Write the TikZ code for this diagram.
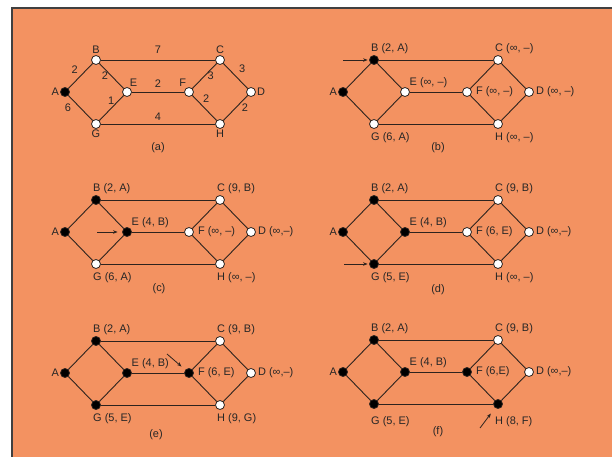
\documentclass[tikz,border=0pt]{standalone}
\usepackage{fontspec}
\setmainfont{Liberation Sans}
\usetikzlibrary{arrows.meta, positioning}
\definecolor{fondo}{RGB}{243,146,97}
\definecolor{trazo}{RGB}{45,35,30}
\newcommand{\graphlinks}[1]{%
  \foreach \u/\v in {A/B,A/G,B/E,G/E,B/C,E/F,G/H,F/C,F/H,C/D,H/D}
    \draw[link] (#1\u) -- (#1\v);}

\begin{document}
\begin{tikzpicture}[
  x=1bp, y=-1bp,
  vtx/.style={circle, draw=trazo, line width=0.8bp, minimum size=9bp,
              inner sep=0pt},
  settled/.style={vtx, fill=black},
  unsettled/.style={vtx, fill=white},
  link/.style={trazo, line width=0.9bp},
  lbl/.style={font=\fontsize{11}{13}\selectfont, text=black!85,
              inner sep=1bp},
  toplbl/.style={lbl, anchor=south west, xshift=-4bp},
  botlbl/.style={lbl, anchor=north west, xshift=-4bp, yshift=-2bp},
  weight/.style={lbl},
  pointer/.style={trazo, line width=0.8bp, -{Stealth[length=4.5bp, width=3.5bp]}}
]
\useasboundingbox (0,0) rectangle (612,457);

% Fondo
\fill[fondo] (12,8) rectangle (612,457);
\draw[black!75, line width=1.2bp] (12,457) -- (12,8) -- (612,8);

% (a) grafo con pesos
\begin{scope}[shift={(65,92)}]
\node[settled,   label={[lbl]left:A}]   (aA) at (0,0) {};
\node[unsettled, label={[lbl]above:B}]  (aB) at (31,-32) {};
\node[unsettled, label={[lbl]above:C}]  (aC) at (155,-32) {};
\node[unsettled, label={[lbl]right:D}]  (aD) at (186,0) {};
\node[unsettled, label={[lbl]70:E}]     (aE) at (62,0) {};
\node[unsettled, label={[lbl]110:F}]    (aF) at (124,0) {};
\node[unsettled, label={[lbl]below:G}]  (aG) at (31,32) {};
\node[unsettled, label={[lbl]below:H}]  (aH) at (155,32) {};
\draw[link] (aA) -- node[weight, above left=2bp] (wAB) {2} (aB);
\draw[link] (aB) -- node[weight, left=2bp] (wBE) {2} (aE);
\draw[link] (aA) -- node[weight, left=8bp] (wAG) {6} (aG);
\draw[link] (aG) -- node[weight, pos=0.8, left=3bp] (wGE) {1} (aE);
\draw[link] (aB) -- node[weight, above=5bp] (wBC) {7} (aC);
\draw[link] (aE) -- node[weight, above=3bp] (wEF) {2} (aF);
\draw[link] (aG) -- node[weight, above=2bp] (wGH) {4} (aH);
\draw[link] (aF) -- node[weight, pos=0.53, right=1bp] (wFC) {3} (aC);
\draw[link] (aC) -- node[weight, above right=3bp] (wCD) {3} (aD);
\draw[link] (aF) -- node[weight, pos=0.35, above right=1bp] (wFH) {2} (aH);
\draw[link] (aH) -- node[weight, right=5bp] (wHD) {2} (aD);
\node[lbl] (capa) at (93,56) {(a)};
\end{scope}

% (b)
\begin{scope}[shift={(343,92)}]
\node[settled,   label={[lbl]left:A}] (bA) at (0,0) {};
\node[settled,   label={[toplbl]above:B (2, A)}] (bB) at (31,-32) {};
\node[unsettled, label={[toplbl]above:C (∞, –)}] (bC) at (155,-32) {};
\node[unsettled, label={[lbl, label distance=1bp]right:D (∞, –)}] (bD) at (186,0) {};
\node[unsettled, label={[lbl, anchor=south west]45:E (∞, –)}] (bE) at (62,0) {};
\node[unsettled, label={[lbl, label distance=3bp]right:F (∞, –)}] (bF) at (124,0) {};
\node[unsettled, label={[botlbl]below:G (6, A)}] (bG) at (31,32) {};
\node[unsettled, label={[botlbl]below:H (∞, –)}] (bH) at (155,32) {};
\graphlinks{b}
\coordinate (pb) at (0,-32);
\draw[pointer, shorten >=1.5bp] (pb) -- (bB);
\node[lbl] (capb) at (95,56) {(b)};
\end{scope}

% (c)
\begin{scope}[shift={(65,232)}]
\node[settled,   label={[lbl]left:A}] (cA) at (0,0) {};
\node[settled,   label={[toplbl]above:B (2, A)}] (cB) at (31,-32) {};
\node[unsettled, label={[toplbl]above:C (9, B)}] (cC) at (155,-32) {};
\node[unsettled, label={[lbl, label distance=1bp]right:D (∞,–)}] (cD) at (186,0) {};
\node[settled,   label={[lbl, anchor=south west]45:E (4, B)}] (cE) at (62,0) {};
\node[unsettled, label={[lbl, label distance=3bp]right:F (∞, –)}] (cF) at (124,0) {};
\node[unsettled, label={[botlbl]below:G (6, A)}] (cG) at (31,32) {};
\node[unsettled, label={[botlbl]below:H (∞, –)}] (cH) at (155,32) {};
\graphlinks{c}
\coordinate (pc) at (32,0);
\draw[pointer, shorten >=4.5bp] (pc) -- (cE);
\node[lbl] (capc) at (94,57) {(c)};
\end{scope}

% (d)
\begin{scope}[shift={(343,232)}]
\node[settled,   label={[lbl]left:A}] (dA) at (0,0) {};
\node[settled,   label={[toplbl]above:B (2, A)}] (dB) at (31,-32) {};
\node[unsettled, label={[toplbl]above:C (9, B)}] (dC) at (155,-32) {};
\node[unsettled, label={[lbl, label distance=1bp]right:D (∞,–)}] (dD) at (186,0) {};
\node[settled,   label={[lbl, anchor=south west]45:E (4, B)}] (dE) at (62,0) {};
\node[unsettled, label={[lbl, label distance=3bp]right:F (6, E)}] (dF) at (124,0) {};
\node[settled,   label={[botlbl]below:G (5, E)}] (dG) at (31,32) {};
\node[unsettled, label={[botlbl]below:H (∞, –)}] (dH) at (155,32) {};
\graphlinks{d}
\coordinate (pd) at (1,32);
\draw[pointer, shorten >=1.5bp] (pd) -- (dG);
\node[lbl] (capd) at (95,58) {(d)};
\end{scope}

% (e)
\begin{scope}[shift={(65,373)}]
\node[settled,   label={[lbl]left:A}] (eA) at (0,0) {};
\node[settled,   label={[toplbl]above:B (2, A)}] (eB) at (31,-32) {};
\node[unsettled, label={[toplbl]above:C (9, B)}] (eC) at (155,-32) {};
\node[unsettled, label={[lbl, label distance=1bp]right:D (∞,–)}] (eD) at (186,0) {};
\node[settled,   label={[lbl, anchor=south west]45:E (4, B)}] (eE) at (62,0) {};
\node[settled,   label={[lbl, label distance=3bp]right:F (6, E)}] (eF) at (124,0) {};
\node[settled,   label={[botlbl]below:G (5, E)}] (eG) at (31,32) {};
\node[unsettled, label={[botlbl]below:H (9, G)}] (eH) at (155,32) {};
\graphlinks{e}
\coordinate (pe) at (102,-19);
\draw[pointer, shorten >=5bp] (pe) -- (eF);
\node[lbl] (cape) at (91,62) {(e)};
\end{scope}

% (f)
\begin{scope}[shift={(343,372)}]
\node[settled,   label={[lbl]left:A}] (fA) at (0,0) {};
\node[settled,   label={[toplbl]above:B (2, A)}] (fB) at (31,-32) {};
\node[unsettled, label={[toplbl]above:C (9, B)}] (fC) at (155,-32) {};
\node[unsettled, label={[lbl, label distance=1bp]right:D (∞,–)}] (fD) at (186,0) {};
\node[settled,   label={[lbl, anchor=south west]45:E (4, B)}] (fE) at (62,0) {};
\node[settled,   label={[lbl, label distance=3bp]right:F (6,E)}] (fF) at (124,0) {};
\node[settled,   label={[botlbl, yshift=-4bp]below:G (5, E)}] (fG) at (31,32) {};
\node[settled,   label={[botlbl, yshift=-4bp]below:H (8, F)}] (fH) at (155,32) {};
\graphlinks{f}
\coordinate (pf) at (137,56);
\draw[pointer, shorten >=7bp] (pf) -- (fH);
\node[lbl] (capf) at (95,60) {(f)};
\end{scope}
\end{tikzpicture}
\end{document}
